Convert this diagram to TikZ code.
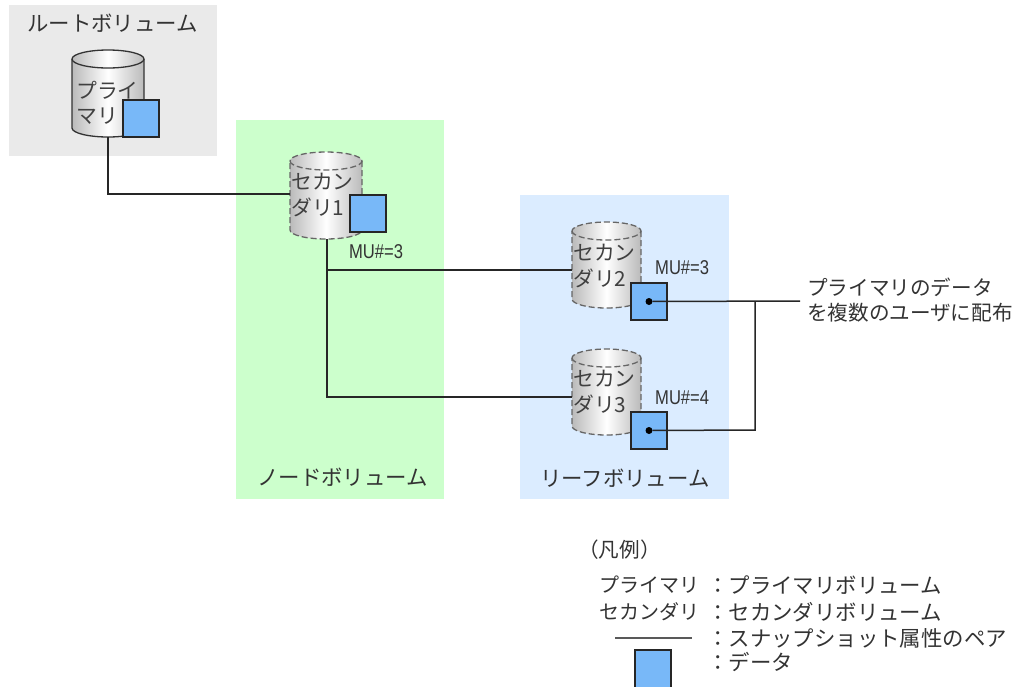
\documentclass[tikz,border=0pt]{standalone}
\usepackage{fontspec}
\setmainfont{Noto Sans CJK JP}
\newfontfamily\lat{Liberation Sans}
\definecolor{dblue}{HTML}{78B8F8}
\definecolor{dgray}{HTML}{EAEAEA}
\definecolor{dgreen}{HTML}{CCFFCC}
\definecolor{dsky}{HTML}{DBECFF}
\tikzset{
  x=1pt,y=-1pt,
  region/.style={draw=none,anchor=north west,inner sep=0pt,outer sep=0pt},
  cyl/.style={draw=none,anchor=north west,inner sep=0pt,outer sep=0pt},
  datasq/.style={draw=black!85,line width=1.5pt,fill=dblue,anchor=north west,inner sep=0pt,outer sep=0pt,minimum width=36pt,minimum height=37pt},
  wire/.style={draw=black!85,line width=1.5pt,line join=miter},
  txt/.style={text=black!80,font=\fontsize{20.6}{25}\selectfont,inner sep=0pt,anchor=west},
  bigtxt/.style={txt,font=\fontsize{21.4}{25}\selectfont},
  keytxt/.style={txt,font=\fontsize{20}{25}\selectfont,anchor=east},
  cyltxt/.style={text=black!75,font=\fontsize{20.8}{25.5}\selectfont,inner sep=0pt,anchor=north west,align=left},
  mu/.style={text=black!80,font=\lat\fontsize{20}{22}\selectfont,inner sep=0pt,anchor=west,xscale=.83},
  dotmark/.style={circle,fill=black,inner sep=0pt,minimum size=7pt},
  dashcyl/.style={draw=black!60,dash pattern=on 6pt off 3pt},
}
\newcommand{\drawcyl}[3]{%
  \path[left color=black!27,right color=black!27,middle color=white]
    ([yshift=-9pt]#1.north west) arc[start angle=180,end angle=360,x radius=#2,y radius=9]
    -- ([yshift=9pt]#1.south east) arc[start angle=0,end angle=-180,x radius=#2,y radius=-9] -- cycle;
  \draw[black!80,line width=1.3pt,#3]
    ([yshift=-9pt]#1.north west) arc[start angle=180,end angle=-180,x radius=#2,y radius=9];
  \draw[black!80,line width=1.3pt,#3]
    ([yshift=-9pt]#1.north east) -- ([yshift=9pt]#1.south east)
    arc[start angle=0,end angle=-180,x radius=#2,y radius=-9]
    -- ([yshift=-9pt]#1.north west);
}
\begin{document}
\begin{tikzpicture}
\useasboundingbox (0,0) rectangle (1033,686);
\fill[white] (0,0) rectangle (1033,686);
\node[region,fill=dgray,minimum width=208pt,minimum height=151pt] (rroot) at (9,5) {};
\node[region,fill=dgreen,minimum width=208pt,minimum height=379pt] (rnode) at (236,120) {};
\node[region,fill=dsky,minimum width=209pt,minimum height=304pt] (rleaf) at (520,195) {};

\node[cyl,minimum width=72pt,minimum height=87pt] (cp) at (72,50) {};
\node[cyl,minimum width=72pt,minimum height=87pt] (c1) at (290,152) {};
\node[cyl,minimum width=69pt,minimum height=86pt] (c2) at (572,222) {};
\node[cyl,minimum width=69pt,minimum height=86pt] (c3) at (572,349) {};
\drawcyl{cp}{36}{}
\drawcyl{c1}{36}{dashcyl}
\drawcyl{c2}{34.5}{dashcyl}
\drawcyl{c3}{34.5}{dashcyl}

\node[cyltxt] (tp) at (76,81) {プライ\\マリ};
\node[cyltxt] (t1) at (291,173) {セカン\\ダリ1};
\node[cyltxt] (t2) at (573,244) {セカン\\ダリ2};
\node[cyltxt] (t3) at (573,370) {セカン\\ダリ3};

\node[datasq] (dp) at (123,100) {};
\node[datasq] (d1) at (350,195) {};
\node[datasq] (d2) at (631,283) {};
\node[datasq] (d3) at (631,412) {};
\node[datasq,minimum height=38pt] (dl) at (635,650) {};

\node[dotmark] (p2) at (d2.center) {};
\node[dotmark] (p3) at (d3.center) {};

\coordinate (jroot) at (108,194);
\coordinate (j1) at (327,270);
\coordinate (j1b) at (327,397);
\coordinate (j3) at (755,430);
\coordinate (j2) at (755,301);
\coordinate (fin) at (800,301);
\coordinate (s2) at (572,270);
\coordinate (s3) at (572,397);
\coordinate (s1) at (290,194);

\draw[wire] (cp.south -| jroot) -- (jroot) -- (s1);
\draw[wire] (c1.south -| j1) -- (j1b) -- (s3);
\draw[wire] (j1) -- (s2);
\draw[wire] (p2) -- (fin);
\draw[wire] (p3) -- (j3) -- (j2);

\node[bigtxt] (lroot) at (27,23) {ルートボリューム};
\node[bigtxt] (lnode) at (257,477) {ノードボリューム};
\node[bigtxt] (lleaf) at (540,478) {リーフボリューム};
\node[mu] (m1) at (349,252) {MU\#=3};
\node[mu] (m2) at (655,268) {MU\#=3};
\node[mu] (m3) at (655,398) {MU\#=4};
\node[txt] (note1) at (807,287) {プライマリのデータ};
\node[txt] (note2) at (807,313) {を複数のユーザに配布};

\node[txt] (lg) at (578,550) {（凡例）};
\node[keytxt] (lg1a) at (700,585) {プライマリ};
\node[bigtxt] (lg1b) at (707,585) {：プライマリボリューム};
\node[keytxt] (lg2a) at (700,612) {セカンダリ};
\node[bigtxt] (lg2b) at (707,612) {：セカンダリボリューム};
\node[bigtxt] (lg3b) at (707,638) {：スナップショット属性のペア};
\node[bigtxt] (lg4b) at (707,662) {：データ};
\coordinate (la) at (615,638);
\coordinate (lb) at (692,638);
\draw[draw=black!65,line width=2pt] (la) -- (lb);
\end{tikzpicture}
\end{document}
